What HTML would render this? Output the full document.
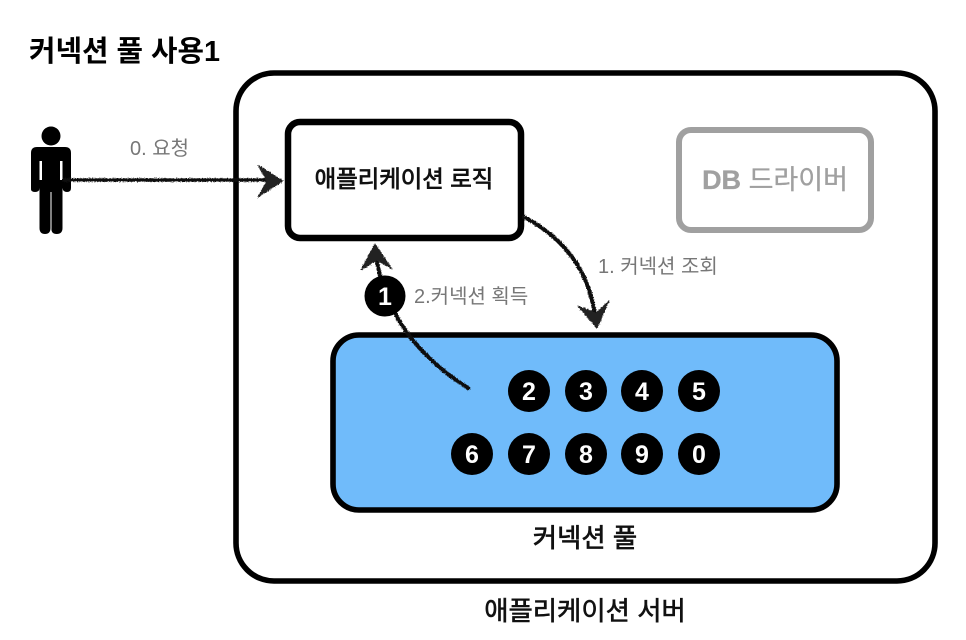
<!DOCTYPE html>
<html>
<head>
<meta charset="utf-8">
<style>
html,body{margin:0;padding:0;background:#fff}
svg{display:block}
text{font-family:"Liberation Sans","Noto Sans CJK KR",sans-serif}
</style>
</head>
<body>
<svg width="966" height="640" viewBox="0 0 966 640">
<defs>
<filter id="rough" filterUnits="userSpaceOnUse" x="0" y="0" width="966" height="640">
<feTurbulence type="fractalNoise" baseFrequency="0.8" numOctaves="2" seed="4" result="n"/>
<feDisplacementMap in="SourceGraphic" in2="n" scale="3" xChannelSelector="R" yChannelSelector="G"/>
</filter>
</defs>
<rect width="966" height="640" fill="#fff"/>
<text x="29" y="61" font-size="28.8" font-weight="700" fill="#000">커넥션 풀 사용1</text>
<rect x="236" y="73" width="699" height="508" rx="38" fill="#fff" stroke="#000" stroke-width="5.6"/>
<rect x="288" y="122" width="233" height="116" rx="12" fill="#fff" stroke="#000" stroke-width="6.5"/>
<text x="404" y="187" font-size="23.4" text-anchor="middle" fill="#111" stroke="#111" stroke-width=".8">애플리케이션 로직</text>
<rect x="679" y="130" width="192" height="100" rx="12" fill="#fff" stroke="#a0a0a0" stroke-width="6"/>
<text x="775" y="189" font-size="27" text-anchor="middle" fill="#a0a0a0" stroke="#a0a0a0" stroke-width=".3"><tspan font-weight="700">DB</tspan> 드라이버</text>
<rect x="333" y="335" width="504" height="175" rx="26" fill="#70bbfa" stroke="#000" stroke-width="5.6"/>
<text x="585" y="547" font-size="26.4" text-anchor="middle" fill="#111" stroke="#111" stroke-width=".7">커넥션 풀</text>
<text x="585" y="620" font-size="26.4" text-anchor="middle" fill="#111" stroke="#111" stroke-width=".6">애플리케이션 서버</text>
<!-- person -->
<g fill="#000">
<circle cx="51" cy="136" r="9.5"/>
<path d="M37 147H65Q71 147 71 153V188Q71 192 67 192T62.5 188V161H60V188H42V161H39.5V188Q39.5 192 35 192T31 188V153Q31 147 37 147Z"/>
<path d="M39.5 180H62.5V228Q62.5 234 56.7 234T51.5 228V192H50.5V228Q50.5 234 45 234T39.5 228Z"/>
</g>
<!-- arrows -->
<g filter="url(#rough)" stroke-linecap="round" stroke-linejoin="round">
<g fill="none" stroke="#111">
<path d="M64 180L270 180" stroke-width="3.6"/>
<path d="M524 217Q586.5 250 595 316" stroke-width="4"/>
<path d="M468 388Q391.5 340 377 262" stroke-width="4"/>
</g>
<g fill="#222" stroke="#222" stroke-width="1">
<path d="M258 165L283 181L258 197L267 181Z"/>
<path d="M578 306L597 328L609 301L596 313Z"/>
<path d="M361 270L375 244L392 269L377 260Z"/>
</g>
</g>
<text x="130" y="155" font-size="20" fill="#777">0. 요청</text>
<text x="598" y="273" font-size="20" fill="#777">1. 커넥션 조회</text>
<text x="414" y="303" font-size="20" fill="#777">2.커넥션 획득</text>
<!-- numbered circles -->
<g fill="#000">
<circle cx="385" cy="296" r="20.5"/>
<circle cx="529" cy="391" r="21"/><circle cx="586" cy="391" r="21"/><circle cx="642" cy="391" r="21"/><circle cx="699" cy="391" r="21"/>
<circle cx="472" cy="454" r="21"/><circle cx="529" cy="454" r="21"/><circle cx="586" cy="454" r="21"/><circle cx="642" cy="454" r="21"/><circle cx="699" cy="454" r="21"/>
</g>
<g fill="#fff" font-size="25" font-weight="700" text-anchor="middle">
<text x="385" y="305">1</text>
<text x="529" y="400">2</text><text x="586" y="400">3</text><text x="642" y="400">4</text><text x="699" y="400">5</text>
<text x="472" y="463">6</text><text x="529" y="463">7</text><text x="586" y="463">8</text><text x="642" y="463">9</text><text x="699" y="463">0</text>
</g>
</svg>
</body>
</html>
